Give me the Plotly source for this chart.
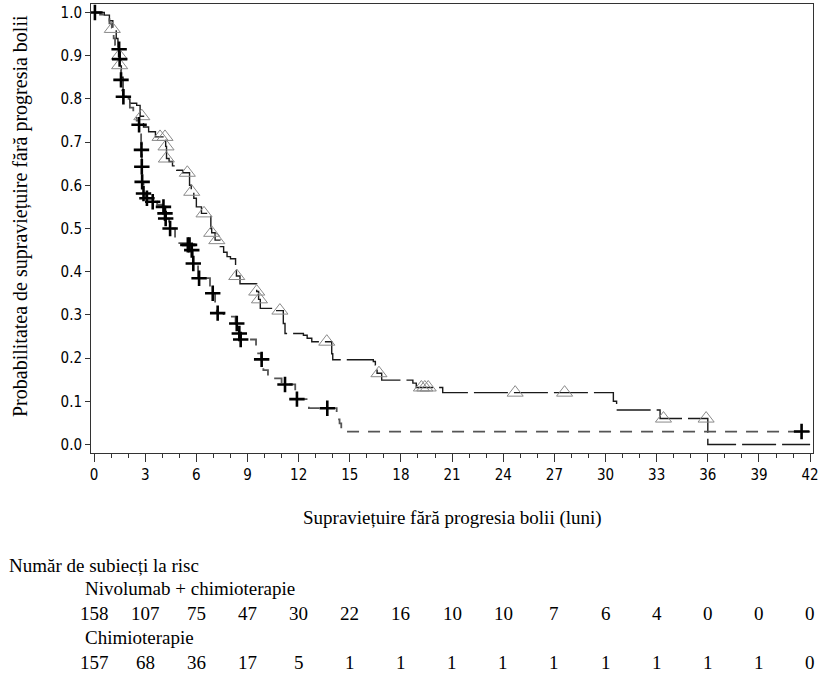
import plotly.graph_objects as go

# ---- data ----
months = [0, 3, 6, 9, 12, 15, 18, 21, 24, 27, 30, 33, 36, 39, 42]
nivo_risk = [158, 107, 75, 47, 30, 22, 16, 10, 10, 7, 6, 4, 0, 0, 0]
chemo_risk = [157, 68, 36, 17, 5, 1, 1, 1, 1, 1, 1, 1, 1, 1, 0]

# Nivolumab + chimioterapie : step curve (time, survival)
nivo_t = [0, 0.6, 0.9, 1.1, 1.3, 1.4, 1.45, 1.5, 1.6, 1.7, 2.1, 2.5, 2.7, 2.9, 3.2,
          3.6, 4.2, 4.25, 4.4, 4.6, 4.85, 5.2, 5.6, 5.7, 5.85, 6.0, 6.3, 6.85, 6.9,
          7.1, 7.4, 7.6, 7.8, 8.0, 8.3, 8.35, 8.56, 9.54, 9.65, 9.75, 10.56, 11.1,
          11.2, 12.28, 12.5, 12.77, 13.94, 14.0, 16.38, 16.5, 16.6, 16.87, 18.7,
          18.9, 20.45, 30.46, 30.65, 33.2, 36.0, 42.0]
nivo_s = [1.0, 0.994, 0.981, 0.962, 0.94, 0.92, 0.90, 0.878, 0.85, 0.80, 0.79, 0.785,
          0.76, 0.735, 0.724, 0.712, 0.69, 0.662, 0.655, 0.645, 0.635, 0.629, 0.60,
          0.585, 0.57, 0.55, 0.535, 0.50, 0.49, 0.473, 0.458, 0.445, 0.435, 0.43,
          0.41, 0.39, 0.372, 0.354, 0.336, 0.315, 0.31, 0.28, 0.257, 0.253, 0.246,
          0.238, 0.21, 0.196, 0.192, 0.184, 0.165, 0.149, 0.142, 0.132, 0.12, 0.10,
          0.08, 0.06, 0.0, 0.0]
nivo_cens_t = [1.07, 1.48, 1.5, 2.8, 3.87, 4.16, 4.22, 4.24, 5.47, 5.73, 6.45, 6.9,
               7.2, 8.37, 9.54, 9.7, 10.9, 13.65, 16.71, 19.2, 19.4, 19.6, 24.7,
               27.6, 33.4, 35.9]
nivo_cens_s = [0.962, 0.90, 0.878, 0.76, 0.712, 0.712, 0.69, 0.662, 0.629, 0.585,
               0.535, 0.49, 0.473, 0.39, 0.354, 0.336, 0.31, 0.238, 0.165, 0.132,
               0.132, 0.132, 0.12, 0.12, 0.06, 0.06]

# Chimioterapie : step curve (time, survival)
chemo_t = [0, 0.35, 0.6, 0.9, 1.04, 1.15, 1.23, 1.4, 1.5, 1.55, 1.58, 1.65, 1.72,
           2.1, 2.3, 2.5, 2.64, 2.76, 2.78, 2.8, 2.82, 2.9, 3.0, 3.3, 3.7, 4.0,
           4.16, 4.2, 4.4, 4.75, 5.0, 5.5, 5.7, 5.8, 6.1, 6.8, 6.9, 7.1, 7.2, 7.6,
           8.3, 8.5, 8.58, 9.5, 9.55, 9.8, 9.93, 10.2, 11.0, 11.8, 12.57, 12.6,
           14.23, 14.4, 14.5, 42.0]
chemo_s = [1.0, 0.995, 0.987, 0.975, 0.965, 0.94, 0.925, 0.915, 0.892, 0.87, 0.844,
           0.82, 0.805, 0.78, 0.765, 0.75, 0.74, 0.70, 0.682, 0.643, 0.608, 0.581,
           0.57, 0.562, 0.555, 0.55, 0.535, 0.523, 0.50, 0.473, 0.466, 0.462, 0.45,
           0.419, 0.385, 0.36, 0.35, 0.327, 0.304, 0.296, 0.28, 0.257, 0.243, 0.22,
           0.211, 0.197, 0.172, 0.153, 0.139, 0.105, 0.094, 0.084, 0.058, 0.049,
           0.03, 0.03]
chemo_cens_t = [0.05, 1.47, 1.5, 1.58, 1.72, 2.64, 2.78, 2.8, 2.82, 2.9, 3.1, 3.44,
                4.07, 4.16, 4.2, 4.46, 5.5, 5.6, 5.73, 5.82, 6.16, 6.96, 7.25, 8.37,
                8.52, 8.6, 9.83, 11.2, 11.9, 13.68, 41.5]
chemo_cens_s = [1.0, 0.915, 0.892, 0.844, 0.805, 0.74, 0.682, 0.643, 0.608, 0.581,
                0.57, 0.562, 0.55, 0.535, 0.523, 0.50, 0.462, 0.462, 0.45, 0.419,
                0.385, 0.35, 0.304, 0.28, 0.257, 0.243, 0.197, 0.139, 0.105, 0.084,
                0.03]

y_ticks = [0.0, 0.1, 0.2, 0.3, 0.4, 0.5, 0.6, 0.7, 0.8, 0.9, 1.0]

SERIF = "Liberation Serif, Times New Roman, serif"
SANS = "DejaVu Sans Condensed, Liberation Sans Narrow, DejaVu Sans, sans-serif"
TXT = 19

fig = go.Figure()
fig.add_trace(go.Scatter(x=nivo_t, y=nivo_s, mode="lines", line_shape="hv",
                         line=dict(color="#1a1a1a", width=1.4, dash="34px,6px"),
                         showlegend=False, hoverinfo="skip"))
fig.add_trace(go.Scatter(x=chemo_t, y=chemo_s, mode="lines", line_shape="hv",
                         line=dict(color="#555555", width=1.8, dash="12px,9px"),
                         showlegend=False, hoverinfo="skip"))
fig.add_trace(go.Scatter(x=nivo_cens_t, y=nivo_cens_s, mode="markers",
                         marker=dict(symbol="triangle-up-open", size=14,
                                     color="#8a8a8a", line=dict(width=1, color="#8a8a8a")),
                         showlegend=False))
fig.add_trace(go.Scatter(x=chemo_cens_t, y=chemo_cens_s, mode="markers",
                         marker=dict(symbol="cross-thin", size=11,
                                     line=dict(width=2.6, color="#000000")),
                         showlegend=False))

ann = []
def py2paper(py):
    return (453 - py) / 449.0

ann.append(dict(text="Număr de subiecți la risc", xref="paper", yref="paper",
                x=(7 - 91) / 722.0, y=py2paper(565), xanchor="left", yanchor="middle",
                showarrow=False, font=dict(family=SERIF, size=TXT, color="black")))
ann.append(dict(text="Nivolumab + chimioterapie", xref="paper", yref="paper",
                x=(83 - 91) / 722.0, y=py2paper(588), xanchor="left", yanchor="middle",
                showarrow=False, font=dict(family=SERIF, size=TXT, color="black")))
ann.append(dict(text="Chimioterapie", xref="paper", yref="paper",
                x=(83 - 91) / 722.0, y=py2paper(637), xanchor="left", yanchor="middle",
                showarrow=False, font=dict(family=SERIF, size=TXT, color="black")))
for m, v in zip(months, nivo_risk):
    ann.append(dict(text=str(v), xref="x", yref="paper", x=m, y=py2paper(613),
                    xanchor="center", yanchor="middle", showarrow=False,
                    font=dict(family=SERIF, size=TXT, color="black")))
for m, v in zip(months, chemo_risk):
    ann.append(dict(text=str(v), xref="x", yref="paper", x=m, y=py2paper(662),
                    xanchor="center", yanchor="middle", showarrow=False,
                    font=dict(family=SERIF, size=TXT, color="black")))
ann.append(dict(text="Supraviețuire fără progresia bolii (luni)", xref="paper", yref="paper",
                x=0.5, y=py2paper(518), xanchor="center", yanchor="middle",
                showarrow=False, font=dict(family=SERIF, size=TXT, color="black")))
ann.append(dict(text="Probabilitatea de supraviețuire fără progresia bolii", xref="paper",
                yref="paper", x=(20 - 91) / 722.0, y=py2paper(216), xanchor="center",
                yanchor="middle", textangle=-90, showarrow=False,
                font=dict(family=SERIF, size=20, color="black")))

fig.update_layout(
    width=834, height=682,
    margin=dict(l=91, r=21, t=4, b=229),
    paper_bgcolor="white", plot_bgcolor="white",
    annotations=ann,
    xaxis=dict(range=[-0.18, 42.17], tickmode="array", tickvals=months,
               ticktext=[str(m) for m in months], ticks="outside", ticklen=8,
               tickcolor="#333", tickwidth=1, showgrid=False, zeroline=False,
               showline=True, linecolor="#333", linewidth=1, mirror=True,
               minor=dict(dtick=1, tick0=0, ticks="outside", ticklen=4, tickcolor="#333"),
               tickfont=dict(family=SANS, size=15, color="black")),
    yaxis=dict(range=[-0.0197, 1.0197], tickmode="array", tickvals=y_ticks,
               ticktext=[f"{v:.1f}" for v in y_ticks], ticks="outside", ticklen=5,
               tickcolor="#333", showgrid=False, zeroline=False, showline=True,
               linecolor="#333", linewidth=1, mirror=True,
               tickfont=dict(family=SANS, size=15, color="black")),
)

fig.write_html("out.html")
